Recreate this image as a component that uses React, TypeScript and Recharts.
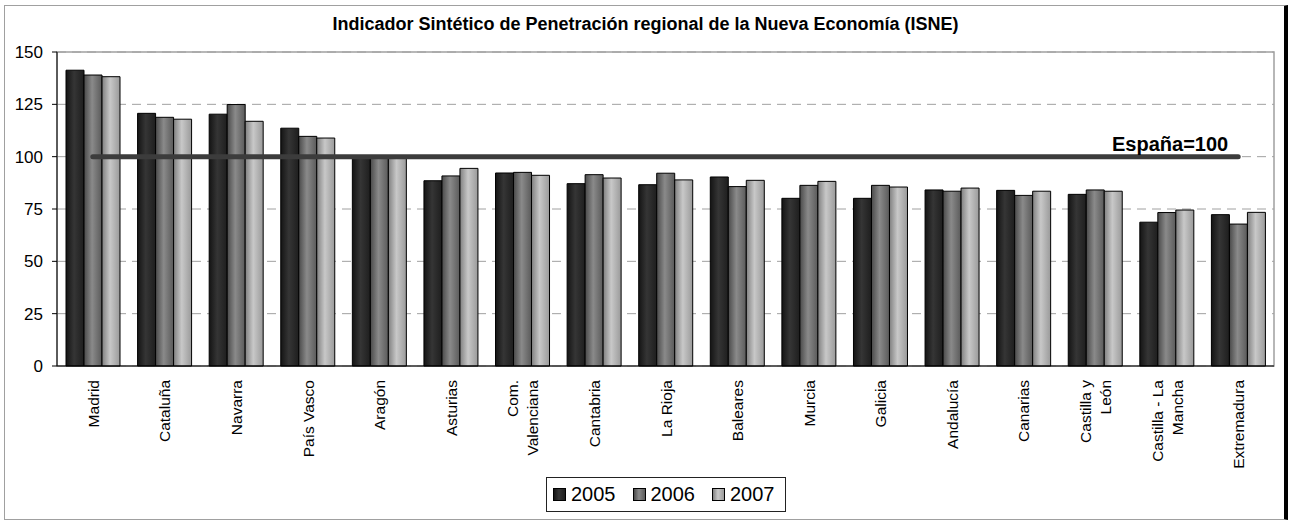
import {
  ComposedChart,
  Bar,
  Line,
  XAxis,
  YAxis,
  CartesianGrid,
  Legend,
  LabelList,
  ReferenceArea,
} from "recharts";

const regions = [
  "Madrid",
  "Cataluña",
  "Navarra",
  "País Vasco",
  "Aragón",
  "Asturias",
  "Com. Valenciana",
  "Cantabria",
  "La Rioja",
  "Baleares",
  "Murcia",
  "Galicia",
  "Andalucía",
  "Canarias",
  "Castilla y León",
  "Castilla - La Mancha",
  "Extremadura",
];

// how each category name is broken on the axis
const tickLabels = [
  ["Madrid"],
  ["Cataluña"],
  ["Navarra"],
  ["País Vasco"],
  ["Aragón"],
  ["Asturias"],
  ["Com.", "Valenciana"],
  ["Cantabria"],
  ["La Rioja"],
  ["Baleares"],
  ["Murcia"],
  ["Galicia"],
  ["Andalucía"],
  ["Canarias"],
  ["Castilla y", "León"],
  ["Castilla - La", "Mancha"],
  ["Extremadura"],
];

const v2005 = [141.3, 120.7, 120.3, 113.6, 100, 88.5, 92.2, 87.1, 86.6, 90.3, 80.1, 80.1, 84.1, 83.9, 82.0, 68.7, 72.3];
const v2006 = [139.0, 118.8, 124.9, 109.7, 99.8, 90.8, 92.5, 91.4, 92.1, 85.7, 86.3, 86.3, 83.5, 81.5, 84.1, 73.3, 67.8];
const v2007 = [138.2, 117.9, 116.9, 108.9, 99.9, 94.4, 91.1, 89.8, 88.9, 88.7, 88.2, 85.5, 85.0, 83.5, 83.5, 74.5, 73.4];
const spain = 100;

const years = ["2005", "2006", "2007"];
const yTicks = [0, 25, 50, 75, 100, 125, 150];
const edgeTicks = regions.map((_, i) => i).concat([regions.length]);

const data = regions.map((name, i) => ({
  name,
  v2005: v2005[i],
  v2006: v2006[i],
  v2007: v2007[i],
  espana: spain,
}));

const FONT = "'Liberation Sans', Arial, sans-serif";

const grads: Record<string, [string, string, string]> = {
  "2005": ["#141414", "#353535", "#1e1e1e"],
  "2006": ["#4a4a4a", "#8a8a8a", "#5a5a5a"],
  "2007": ["#808080", "#c8c8c8", "#9a9a9a"],
};

function RegionTick(props: any) {
  const { x, y, index } = props;
  const lines = tickLabels[index] || [];
  const n = lines.length;
  return (
    <g transform={`translate(${x},${y}) rotate(-90)`}>
      <text
        textAnchor="end"
        dominantBaseline="central"
        fontSize={15.5}
        fontFamily={FONT}
        fill="#000"
      >
        {lines.map((l, i) => (
          <tspan key={i} x={0} y={(i - (n - 1) / 2) * 20}>
            {l}
          </tspan>
        ))}
      </text>
    </g>
  );
}

function SpainLabel(props: any) {
  const { x, y, index } = props;
  if (index !== regions.length - 1) return null;
  return (
    <text
      x={x - 10}
      y={y - 6}
      textAnchor="end"
      fontSize={20}
      fontWeight="bold"
      fontFamily={FONT}
      fill="#000"
    >
      España=100
    </text>
  );
}

function YearLegend() {
  return (
    <div
      style={{
        boxSizing: "border-box",
        width: 240,
        height: 35,
        border: "1px solid #222",
        background: "#fff",
        display: "flex",
        alignItems: "center",
        paddingLeft: 6,
        fontFamily: FONT,
        fontSize: 20,
        color: "#000",
      }}
    >
      {years.map((yr) => {
        const g = grads[yr];
        return (
          <div key={yr} style={{ display: "flex", alignItems: "center", marginRight: 17 }}>
            <span
              style={{
                display: "inline-block",
                boxSizing: "border-box",
                width: 13,
                height: 13,
                border: "1px solid #000",
                background: `linear-gradient(to right, ${g[0]}, ${g[1]} 45%, ${g[2]})`,
                marginRight: 5,
              }}
            />
            <span>{yr}</span>
          </div>
        );
      })}
    </div>
  );
}

export default function App() {
  return (
    <div
      style={{
        position: "absolute",
        left: 0,
        top: 0,
        width: 1289,
        height: 528,
        background: "#fff",
        fontFamily: FONT,
      }}
    >
      {/* outer frame */}
      <div
        style={{
          position: "absolute",
          left: 4,
          top: 5,
          width: 1284,
          height: 515,
          borderTop: "1px solid #a0a0a0",
          borderLeft: "1px solid #a0a0a0",
          borderBottom: "1px solid #a0a0a0",
          borderRight: "4px solid #000",
          boxSizing: "border-box",
        }}
      />
      <div
        style={{
          position: "absolute",
          left: 0,
          top: 13,
          width: 1291,
          textAlign: "center",
          fontSize: 18,
          lineHeight: "22px",
          fontWeight: "bold",
          color: "#000",
        }}
      >
        Indicador Sintético de Penetración regional de la Nueva Economía (ISNE)
      </div>
      <div style={{ position: "absolute", left: 0, top: 0 }}>
        <ComposedChart
          width={1289}
          height={528}
          data={data}
          margin={{ top: 52, right: 15, bottom: 0, left: 0 }}
          barCategoryGap={9}
          barGap={0}
        >
          <defs>
            {years.map((yr) => (
              <linearGradient key={yr} id={`g${yr}`} x1="0" y1="0" x2="1" y2="0">
                <stop offset="0%" stopColor={grads[yr][0]} />
                <stop offset="45%" stopColor={grads[yr][1]} />
                <stop offset="100%" stopColor={grads[yr][2]} />
              </linearGradient>
            ))}
          </defs>
          <CartesianGrid
            xAxisId="cat"
            vertical={false}
            stroke="#a0a0a0"
            strokeDasharray="9 6"
          />
          <ReferenceArea
            xAxisId="cat"
            x1={regions[0]}
            x2={regions[regions.length - 1]}
            y1={0}
            y2={150}
            fill="none"
            stroke="#a0a0a0"
            strokeWidth={1.5}
          />
          {/* category-boundary tick marks, kept next to the plot */}
          <XAxis
            xAxisId={0}
            type="number"
            domain={[0, regions.length]}
            ticks={edgeTicks}
            tick={false}
            tickSize={6}
            height={1}
            allowDataOverflow
            axisLine={{ stroke: "#000" }}
            tickLine={{ stroke: "#000" }}
          />
          <XAxis
            xAxisId="cat"
            dataKey="name"
            height={161}
            interval={0}
            axisLine={false}
            tickLine={false}
            tickSize={0}
            tickMargin={13}
            tick={<RegionTick />}
          />
          <YAxis
            domain={[0, 150]}
            ticks={yTicks}
            width={57}
            tickSize={5}
            tickMargin={9}
            axisLine={{ stroke: "#000" }}
            tickLine={{ stroke: "#000" }}
            tick={{ fill: "#000", fontSize: 17, fontFamily: FONT }}
          />
          {years.map((yr) => (
            <Bar
              key={yr}
              xAxisId="cat"
              dataKey={`v${yr}`}
              name={yr}
              fill={`url(#g${yr})`}
              stroke="#000"
              strokeWidth={1}
              isAnimationActive={false}
            />
          ))}
          <Line
            xAxisId="cat"
            dataKey="espana"
            stroke="#3c3c3c"
            strokeWidth={5}
            strokeLinecap="round"
            dot={false}
            activeDot={false}
            legendType="none"
            isAnimationActive={false}
          >
            <LabelList dataKey="espana" content={<SpainLabel />} />
          </Line>
          <Legend
            layout="horizontal"
            verticalAlign="middle"
            align="center"
            wrapperStyle={{ left: 546, top: 477, width: 240, height: 35 }}
            content={() => <YearLegend />}
          />
        </ComposedChart>
      </div>
    </div>
  );
}
